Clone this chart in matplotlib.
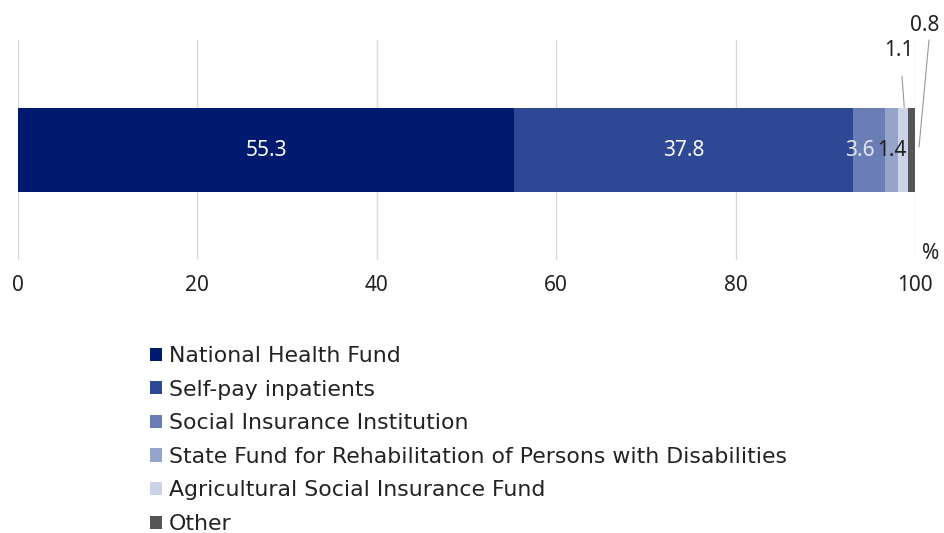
import matplotlib.pyplot as plt
import numpy as np

plt.rcParams['font.family'] = ['Noto Sans', 'DejaVu Sans']

# financing sources, share in %
categories = ['National Health Fund', 'Self-pay inpatients', 'Social Insurance Institution',
              'State Fund for Rehabilitation of Persons with Disabilities',
              'Agricultural Social Insurance Fund', 'Other']
values = [55.3, 37.8, 3.6, 1.4, 1.1, 0.8]
colors = ['#001a70', '#2f4896', '#6a7db5', '#96a3cb', '#ccd3e8', '#555555']
xticks = [0, 20, 40, 60, 80, 100]

fig = plt.figure(figsize=(9.44, 5.33), dpi=100)
ax = fig.add_axes([18/944, 1-260/533, 897/944, 220/533])

left = 0
bars = []
for cat, v, c in zip(categories, values, colors):
    ax.barh(0, v, left=left, height=0.755, color=c, label=cat)
    bars.append((left, v))
    left += v

# labels inside the bar
txt = dict(fontsize=15, va='center', ha='center')
ax.text(bars[0][0] + bars[0][1]/2, 0, '55.3', color='white', **txt)
ax.text(bars[1][0] + bars[1][1]/2, 0, '37.8', color='white', **txt)
ax.text(bars[2][0] + bars[2][1]/2 - 1.1, 0, '3.6', color='#e4e7f2', **txt)
ax.text(bars[3][0] + bars[3][1]/2, 0, '1.4', color='#222222', **txt)

# small ones get leader lines
x11 = bars[4][0] + bars[4][1]/2
ax.text(x11 - 0.4, 0.9, '1.1', color='#222222', clip_on=False, **txt)
ax.plot([x11 - 0.1, x11 + 0.15], [0.67, 0.39], color='#999999', lw=0.8, clip_on=False)
ax.text(101.1, 1.13, '0.8', color='#222222', clip_on=False, **txt)
ax.plot([101.56, 100.45], [1.0, 0.03], color='#999999', lw=0.8, clip_on=False)

ax.text(101.7, -0.94, '%', fontsize=15, ha='center', va='center', color='#222222')

ax.set_xlim(0, 100)
ax.set_ylim(-1, 1)
ax.set_xticks(xticks)
ax.set_yticks([])
ax.tick_params(axis='x', length=0, pad=11, labelsize=15, labelcolor='#222222')
ax.grid(axis='x', color='#d9d9d9', lw=1)
ax.set_axisbelow(True)
for s in ax.spines.values():
    s.set_visible(False)

fig.legend(loc='upper left', bbox_to_anchor=(150/944, 1-346/533), frameon=False,
           prop={'family': 'DejaVu Sans', 'size': 15.8},
           handlelength=0.55, handleheight=0.55, handletextpad=0.3,
           labelspacing=0.62, borderpad=0, borderaxespad=0, labelcolor='#222222')

fig.savefig('out.png', dpi=100)
